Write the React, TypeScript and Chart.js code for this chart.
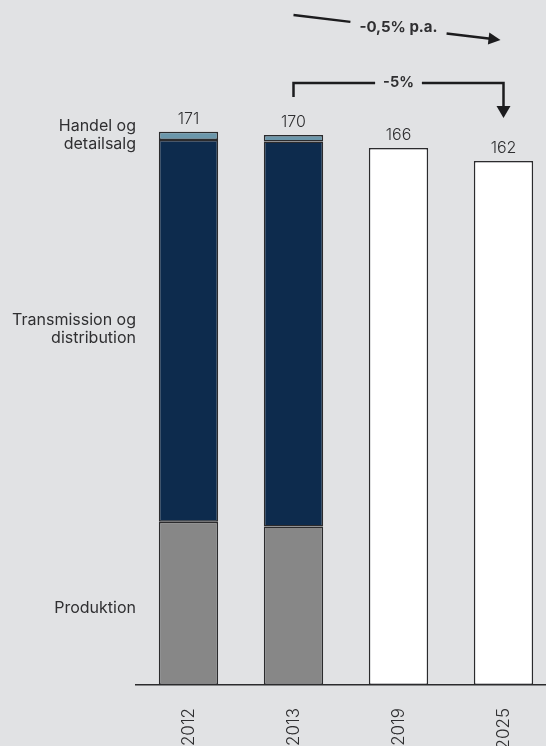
import React, { useEffect, useRef } from "react";
import { Chart, registerables } from "chart.js";

Chart.register(...registerables);

// Categories and values per year
const categories = ["2012", "2013", "2019", "2025"];
const totals = [171, 170, 166, 162];
const production = [50.5, 49, null, null];
const transmission = [118, 119, null, null];
// Trade segment is what remains of the total once production and grid are counted
const trade = totals.map((t, i) =>
  production[i] == null ? null : t - (production[i] as number) - (transmission[i] as number)
);
// Projected years are shown as a single open bar
const projected = totals.map((t, i) => (production[i] == null ? t : null));

const segmentLabels = [["Produktion"], ["Transmission og", "distribution"], ["Handel og", "detailsalg"]];
const segmentLabelAt = [23.8, 110, 170];
const trendLabel = "-0,5% p.a.";
const changeLabel = "-5%";

const FONT = "Inter, 'DejaVu Sans', sans-serif";
const INK = "#2f2f31";
const ARROW = "#1c1c1e";

function arrowHead(ctx: CanvasRenderingContext2D, tx: number, ty: number, angle: number, len: number, half: number) {
  ctx.save();
  ctx.translate(tx, ty);
  ctx.rotate(angle);
  ctx.beginPath();
  ctx.moveTo(0, 0);
  ctx.lineTo(-len, -half);
  ctx.lineTo(-len, half);
  ctx.closePath();
  ctx.fill();
  ctx.restore();
}

const annotations = {
  id: "annotations",
  afterDatasetsDraw(chart: any) {
    const { ctx, scales, chartArea } = chart;
    const x = scales.x;
    const y = scales.y;
    ctx.save();

    // Totals above each bar
    ctx.fillStyle = INK;
    ctx.font = `300 16px ${FONT}`;
    ctx.textAlign = "center";
    ctx.textBaseline = "middle";
    totals.forEach((t, i) => {
      ctx.fillText(String(t), x.getPixelForValue(i), y.getPixelForValue(t) - 13);
    });

    const c1 = x.getPixelForValue(1);
    const c2 = x.getPixelForValue(2);
    const c3 = x.getPixelForValue(3);
    const top = chartArea.top;

    ctx.strokeStyle = ARROW;
    ctx.fillStyle = ARROW;
    ctx.lineWidth = 2.5;
    ctx.lineCap = "butt";
    ctx.lineJoin = "miter";

    // -5% bracket from 2013 to 2025
    ctx.font = `bold 14.5px ${FONT}`;
    const by = top + 45;
    const bw = ctx.measureText(changeLabel).width / 2 + 8;
    ctx.beginPath();
    ctx.moveTo(c1, top + 59);
    ctx.lineTo(c1, by);
    ctx.lineTo(c2 - bw, by);
    ctx.moveTo(c2 + bw, by);
    ctx.lineTo(c3, by);
    ctx.lineTo(c3, top + 70);
    ctx.stroke();
    arrowHead(ctx, c3, top + 80, Math.PI / 2, 12, 7);
    ctx.fillStyle = INK;
    ctx.fillText(changeLabel, c2, by);

    // Annual trend line with the label in a gap
    ctx.font = `bold 15px ${FONT}`;
    ctx.fillStyle = ARROW;
    const x0 = c1, y0 = top - 23;
    const x1 = c3 - 3, y1 = top + 2;
    const ang = Math.atan2(y1 - y0, x1 - x0);
    const tw = ctx.measureText(trendLabel).width / 2 + 9;
    const at = (px: number) => y0 + ((px - x0) * (y1 - y0)) / (x1 - x0);
    ctx.beginPath();
    ctx.moveTo(x0, y0);
    ctx.lineTo(c2 - tw, at(c2 - tw));
    ctx.moveTo(c2 + tw, at(c2 + tw));
    ctx.lineTo(x1 - 10 * Math.cos(ang), y1 - 10 * Math.sin(ang));
    ctx.stroke();
    arrowHead(ctx, x1, y1, ang, 12, 6);
    ctx.fillStyle = INK;
    ctx.fillText(trendLabel, c2, at(c2));

    ctx.restore();
  },
};

export default function App() {
  const ref = useRef<HTMLCanvasElement | null>(null);

  useEffect(() => {
    if (!ref.current) return;
    const border = "#2b2b2d";
    const common = {
      borderColor: border,
      borderWidth: 1.5,
      borderSkipped: false,
      barPercentage: 0.565,
      categoryPercentage: 1,
    };
    const chart = new Chart(ref.current, {
      type: "bar",
      data: {
        labels: categories,
        datasets: [
          { label: "Produktion", data: production, backgroundColor: "#878787", ...common },
          { label: "Transmission og distribution", data: transmission, backgroundColor: "#0d2b4d", ...common },
          { label: "Handel og detailsalg", data: trade, backgroundColor: "#6b97ab", ...common },
          { label: "Prognose", data: projected, backgroundColor: "#ffffff", ...common },
        ] as any,
      },
      options: {
        responsive: false,
        animation: false,
        layout: { padding: { top: 38, right: 0, bottom: 0, left: 0 } },
        plugins: { legend: { display: false }, tooltip: { enabled: false } },
        scales: {
          x: {
            stacked: true,
            grid: { display: false, drawTicks: false },
            border: { display: true, color: "#2b2b2d", width: 1.5 },
            ticks: {
              color: INK,
              font: { family: FONT, size: 17, weight: 300 as any },
              minRotation: 90,
              maxRotation: 90,
              padding: 23,
            },
            afterFit(scale: any) {
              scale.height = 61;
            },
          },
          y: {
            stacked: true,
            min: 0,
            max: 200,
            grid: { display: false, drawTicks: false },
            border: { display: false },
            afterBuildTicks(scale: any) {
              scale.ticks = segmentLabelAt.map((v) => ({ value: v }));
            },
            ticks: {
              color: INK,
              padding: 0,
              font: { family: FONT, size: 16, lineHeight: 1.1 },
              callback: (_v: any, idx: number) => segmentLabels[idx],
            },
            afterFit(scale: any) {
              scale.width = 136;
            },
          },
        },
      },
      plugins: [annotations],
    });
    return () => chart.destroy();
  }, []);

  return (
    <div
      style={{
        position: "fixed",
        left: 0,
        top: 0,
        width: 546,
        height: 746,
        overflow: "hidden",
        background: "#e1e2e4",
      }}
    >
      <canvas ref={ref} width={556} height={746} style={{ display: "block" }} />
    </div>
  );
}
